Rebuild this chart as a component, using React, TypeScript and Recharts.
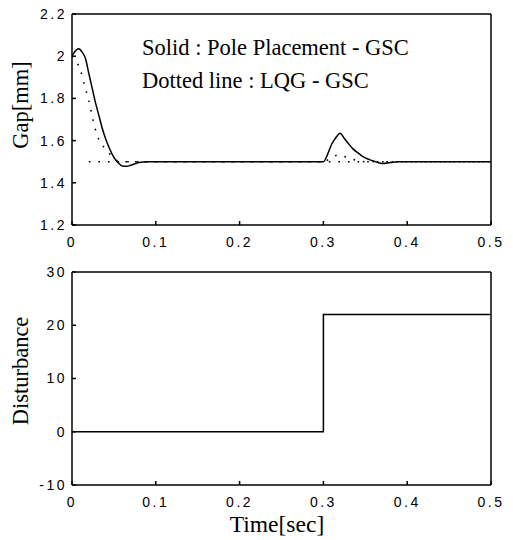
import { LineChart, Line, XAxis, YAxis } from 'recharts';

// Gap response, solid = Pole Placement - GSC
const SOLID_T = [
  0, 0.004, 0.008, 0.012, 0.016, 0.02, 0.024, 0.028, 0.032, 0.036, 0.04, 0.045,
  0.05, 0.055, 0.06, 0.065, 0.07, 0.075, 0.08, 0.09, 0.1, 0.2, 0.3, 0.305, 0.31,
  0.315, 0.32, 0.325, 0.33, 0.335, 0.34, 0.345, 0.35, 0.355, 0.36, 0.365, 0.37,
  0.38, 0.39, 0.45, 0.5,
];
const SOLID_GAP = [
  2.0, 2.025, 2.035, 2.02, 1.99, 1.92, 1.85, 1.78, 1.72, 1.66, 1.61, 1.56, 1.52,
  1.495, 1.48, 1.478, 1.483, 1.49, 1.496, 1.5, 1.5, 1.5, 1.5, 1.535, 1.584,
  1.615, 1.635, 1.61, 1.585, 1.562, 1.545, 1.53, 1.518, 1.51, 1.503, 1.496,
  1.492, 1.496, 1.5, 1.5, 1.5,
];

// dotted = LQG - GSC
const DOTTED_T = [
  0, 0.005, 0.01, 0.015, 0.02, 0.025, 0.03, 0.035, 0.04, 0.045, 0.05, 0.055,
  0.06, 0.2, 0.3, 0.31, 0.318, 0.328, 0.338, 0.35, 0.5,
];
const DOTTED_GAP = [
  2.0, 1.975, 1.935, 1.86, 1.79, 1.7, 1.625, 1.585, 1.56, 1.537, 1.515, 1.503,
  1.5, 1.5, 1.5, 1.52, 1.532, 1.52, 1.508, 1.5, 1.5,
];

// dotted reference gap
const REF_T = [0.02, 0.5];
const REF_GAP = [1.5, 1.5];

// disturbance step
const DIST_T = [0, 0.3, 0.3, 0.5];
const DIST = [0, 0, 22, 22];

const X_TICKS = [0, 0.1, 0.2, 0.3, 0.4, 0.5];
const GAP_TICKS = [1.2, 1.4, 1.6, 1.8, 2, 2.2];
const DIST_TICKS = [-10, 0, 10, 20, 30];

const zip = (t: number[], v: number[]) => t.map((x, i) => ({ t: x, v: v[i] }));

const SERIF = '"Liberation Serif", "Times New Roman", serif';
const SANS = '"Liberation Sans", Arial, sans-serif';

const tickStyle = { fontSize: 14, fontFamily: SANS, fill: '#000', letterSpacing: 2.5 };

const W = 513;
const MARGIN = { top: 14, right: 22, bottom: 6, left: 22 };

function axes(yTicks: number[], yDomain: [number, number]) {
  return [
    <XAxis
      key="xb"
      xAxisId="b"
      dataKey="t"
      type="number"
      domain={[0, 0.5]}
      ticks={X_TICKS}
      allowDataOverflow
      height={30}
      tickSize={-4}
      tickMargin={16}
      tick={tickStyle}
      stroke="#000"
      strokeWidth={1.5}
      axisLine
      tickLine
    />,
    <XAxis
      key="xt"
      xAxisId="t"
      orientation="top"
      dataKey="t"
      type="number"
      domain={[0, 0.5]}
      ticks={X_TICKS}
      height={1}
      tickSize={-4}
      tick={false}
      stroke="#000"
      strokeWidth={1.5}
      axisLine
      tickLine
    />,
    <YAxis
      key="yl"
      yAxisId="l"
      type="number"
      domain={yDomain}
      ticks={yTicks}
      allowDataOverflow
      width={50}
      tickSize={-4}
      tickMargin={9}
      tick={tickStyle}
      stroke="#000"
      strokeWidth={1.5}
      axisLine
      tickLine
    />,
    <YAxis
      key="yr"
      yAxisId="r"
      orientation="right"
      type="number"
      domain={yDomain}
      ticks={yTicks}
      width={1}
      tickSize={-4}
      tick={false}
      stroke="#000"
      strokeWidth={1.5}
      axisLine
      tickLine
    />,
  ];
}

export default function App() {
  return (
    <div style={{ position: 'absolute', left: 0, top: 0, width: 513, height: 540, background: '#fff' }}>
      <div style={{ position: 'absolute', left: 0, top: 0 }}>
        <LineChart width={W} height={261} margin={{ ...MARGIN, top: 13, right: 21 }}>
          {axes(GAP_TICKS, [1.2, 2.2])}
          <Line
            xAxisId="b"
            yAxisId="l"
            data={zip(REF_T, REF_GAP)}
            dataKey="v"
            type="linear"
            stroke="#000"
            strokeWidth={1.6}
            strokeDasharray="1.6 8"
            dot={false}
            isAnimationActive={false}
          />
          <Line
            xAxisId="b"
            yAxisId="l"
            data={zip(DOTTED_T, DOTTED_GAP)}
            dataKey="v"
            type="monotone"
            stroke="#000"
            strokeWidth={1.6}
            strokeDasharray="1.6 8"
            dot={false}
            isAnimationActive={false}
          />
          <Line
            xAxisId="b"
            yAxisId="l"
            data={zip(SOLID_T, SOLID_GAP)}
            dataKey="v"
            type="monotone"
            stroke="#000"
            strokeWidth={1.5}
            dot={false}
            isAnimationActive={false}
          />
        </LineChart>
      </div>
      <div style={{ position: 'absolute', left: 0, top: 258 }}>
        <LineChart width={W} height={263} margin={{ ...MARGIN, top: 13, right: 21 }}>
          {axes(DIST_TICKS, [-10, 30])}
          <Line
            xAxisId="b"
            yAxisId="l"
            data={zip(DIST_T, DIST)}
            dataKey="v"
            type="linear"
            stroke="#000"
            strokeWidth={1.5}
            dot={false}
            isAnimationActive={false}
          />
        </LineChart>
      </div>
      <svg
        width={513}
        height={540}
        style={{ position: 'absolute', left: 0, top: 0, pointerEvents: 'none' }}
      >
        <g fontFamily={SERIF} fontSize={22.5} fill="#000">
          <text x={142} y={55}>Solid : Pole Placement - GSC</text>
          <text x={142} y={88}>Dotted line : LQG - GSC</text>
          <text x={28} y={105} textAnchor="middle" transform="rotate(-90 28 105)">
            Gap[mm]
          </text>
          <text x={28} y={371} textAnchor="middle" transform="rotate(-90 28 371)">
            Disturbance
          </text>
          <text x={277} y={532} textAnchor="middle" fontSize={23.5}>
            Time[sec]
          </text>
        </g>
      </svg>
    </div>
  );
}
